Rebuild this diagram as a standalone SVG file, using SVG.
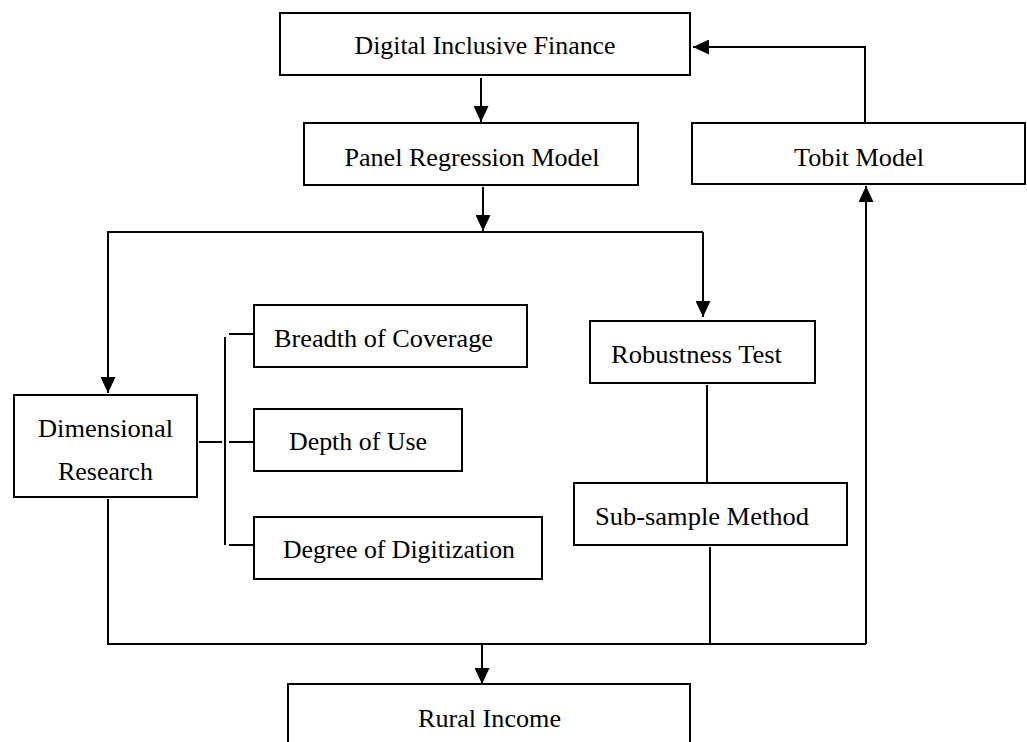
<svg xmlns="http://www.w3.org/2000/svg" width="1027" height="742" viewBox="0 0 1027 742">
<style>
.box{fill:#fff;stroke:#000;stroke-width:2}
.lbl{font-family:"Liberation Serif","Times New Roman",serif;font-size:25px;fill:#000;text-anchor:middle}
.ln{fill:none;stroke:#000;stroke-width:2}
.ar{fill:none;stroke:#000;stroke-width:2;marker-end:url(#ah)}
</style>
<defs>
<marker id="ah" markerUnits="userSpaceOnUse" viewBox="0 0 16 15" markerWidth="16" markerHeight="15" refX="16" refY="7.5" orient="auto">
<path d="M0,0 L16,7.5 L0,15 z" fill="#000"/>
</marker>
</defs>
<rect width="1027" height="742" fill="#fff"/>
<g id="connectors">
<line class="ar" x1="481" y1="78" x2="481" y2="122"/>
<line class="ar" x1="483" y1="187" x2="483" y2="231"/>
<polyline class="ar" points="703,232 108,232 108,393"/>
<line class="ar" x1="703" y1="232" x2="703" y2="317"/>
<polyline class="ar" points="865,123 865,47 693,47"/>
<line class="ln" x1="199" y1="442" x2="222" y2="442"/>
<line class="ln" x1="225" y1="337" x2="225" y2="545"/>
<line class="ln" x1="229" y1="334" x2="254" y2="334"/>
<line class="ln" x1="229" y1="442" x2="254" y2="442"/>
<line class="ln" x1="229" y1="545" x2="254" y2="545"/>
<line class="ln" x1="707" y1="385" x2="707" y2="483"/>
<polyline class="ln" points="108,499 108,644 866,644"/>
<line class="ln" x1="710" y1="547" x2="710" y2="644"/>
<line class="ar" x1="866" y1="644" x2="866" y2="186"/>
<line class="ar" x1="482" y1="644" x2="482" y2="684"/>
</g>
<g id="n-dif"><rect class="box" x="280" y="13" width="410" height="62"/><text class="lbl" x="485" y="54" textLength="261" lengthAdjust="spacingAndGlyphs">Digital Inclusive Finance</text></g>
<g id="n-panel"><rect class="box" x="304" y="123" width="334" height="62"/><text class="lbl" x="472" y="166" textLength="255" lengthAdjust="spacingAndGlyphs">Panel Regression Model</text></g>
<g id="n-tobit"><rect class="box" x="692" y="123" width="333" height="61"/><text class="lbl" x="859" y="166" textLength="130" lengthAdjust="spacingAndGlyphs">Tobit Model</text></g>
<g id="n-dim"><rect class="box" x="14" y="395" width="183" height="102"/><text class="lbl" x="105.5" y="437" textLength="135" lengthAdjust="spacingAndGlyphs">Dimensional</text><text class="lbl" x="105.5" y="480" textLength="95" lengthAdjust="spacingAndGlyphs">Research</text></g>
<g id="n-breadth"><rect class="box" x="254" y="305" width="273" height="62"/><text class="lbl" x="383.5" y="347" textLength="219" lengthAdjust="spacingAndGlyphs">Breadth of Coverage</text></g>
<g id="n-depth"><rect class="box" x="254" y="409" width="208" height="62"/><text class="lbl" x="358" y="450" textLength="138" lengthAdjust="spacingAndGlyphs">Depth of Use</text></g>
<g id="n-degree"><rect class="box" x="254" y="517" width="288" height="62"/><text class="lbl" x="399" y="558" textLength="232" lengthAdjust="spacingAndGlyphs">Degree of Digitization</text></g>
<g id="n-robust"><rect class="box" x="590" y="321" width="225" height="62"/><text class="lbl" x="696.5" y="363" textLength="171" lengthAdjust="spacingAndGlyphs">Robustness Test</text></g>
<g id="n-sub"><rect class="box" x="574" y="483" width="273" height="62"/><text class="lbl" x="702" y="525" textLength="214" lengthAdjust="spacingAndGlyphs">Sub-sample Method</text></g>
<g id="n-rural"><rect class="box" x="288" y="684" width="402" height="80"/><text class="lbl" x="489.5" y="727" textLength="143" lengthAdjust="spacingAndGlyphs">Rural Income</text></g>
</svg>
